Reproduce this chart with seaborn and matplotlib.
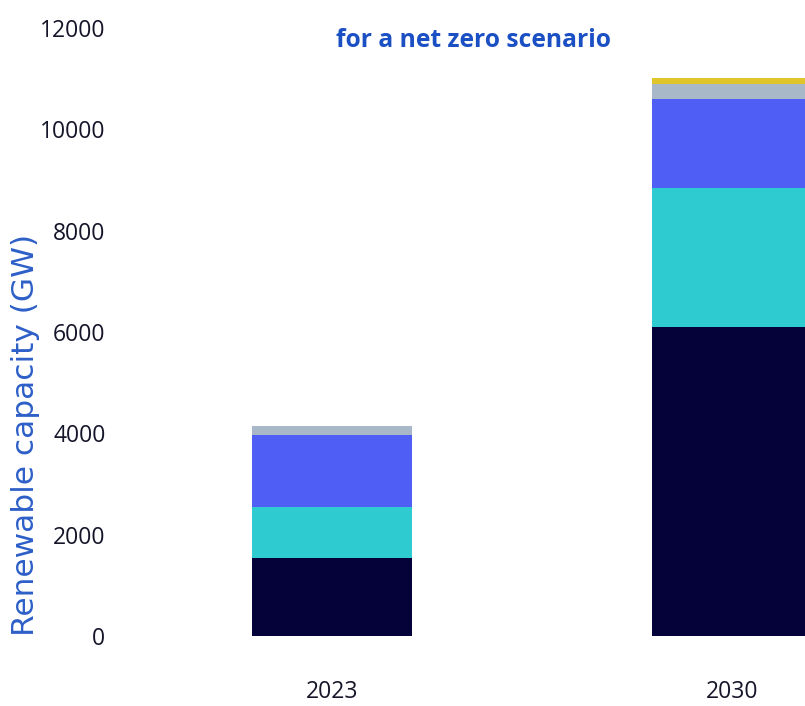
import matplotlib
matplotlib.use("Agg")
import matplotlib.pyplot as plt
import seaborn as sns
import pandas as pd
import numpy as np

years = ["2023", "2030"]
series_names = ["Solar PV", "Wind", "Hydropower", "Bioenergy", "Other"]
solar = [1540, 6100]
wind = [1005, 2745]
hydro = [1420, 1755]
bio = [180, 295]
other = [0, 120]
colors = ["#05023a", "#2ecbd0", "#4f5ef5", "#a9b8c8", "#e0c52a"]
yticks = [0, 2000, 4000, 6000, 8000, 10000, 12000]

sns.set_theme(style="white")
plt.rcParams['font.family'] = ['Open Sans', 'DejaVu Sans']

fig = plt.figure(figsize=(8.05, 7.06), dpi=100)
ax = fig.add_axes([0.143, 0.0992, 0.857, 0.8611])

layers = [solar, wind, hydro, bio, other]
cum = np.cumsum(np.array(layers), axis=0)
# draw from the top layer down so smaller cumulative bars cover larger ones
for i in range(len(layers) - 1, -1, -1):
    df = pd.DataFrame({"year": years, "value": cum[i]})
    sns.barplot(data=df, x="year", y="value", color=colors[i], width=0.4,
                saturation=1, ax=ax, edgecolor="none", linewidth=0)

ax.set_ylim(0, 12000)
ax.set_xlim(-0.5425, 1.1825)
ax.set_yticks(yticks)
ax.set_yticklabels([str(v) for v in yticks], fontsize=16.5, color="#15152a")
ax.tick_params(axis="x", labelsize=16.5, colors="#15152a", pad=32, length=0)
ax.tick_params(axis="y", pad=7, length=0)
ax.set_xlabel("")
ax.set_ylabel("Renewable capacity (GW)", fontsize=22.5, color="#2d5fc8",
              fontfamily="DejaVu Sans")
ax.yaxis.set_label_coords(-0.109, 0.331)
for s in ax.spines.values():
    s.set_visible(False)

fig.text(0.588, 0.943, "for a net zero scenario", ha="center", va="center",
         fontsize=17.7, fontweight="bold", color="#1b4fc4")

fig.savefig("out.png", dpi=100)
